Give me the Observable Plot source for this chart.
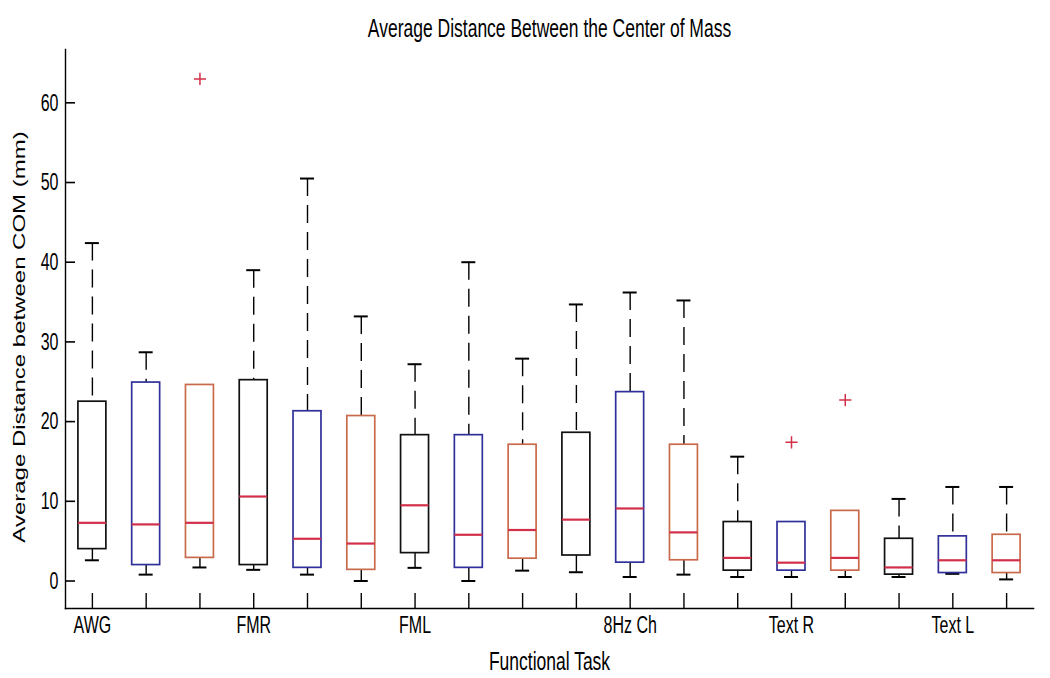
<!DOCTYPE html>
<html><head><meta charset="utf-8">
<script src="https://cdn.jsdelivr.net/npm/d3@7"></script>
<script src="https://cdn.jsdelivr.net/npm/@observablehq/plot@0.6"></script>
<style>body{margin:0;background:#fff}</style>
</head><body><div id="chart"></div>
<script>
// ---- data ----
const taskLabels = ["AWG", "FMR", "FML", "8Hz Ch", "Text R", "Text L"];
const taskLabelPositions = [1, 4, 7, 11, 14, 17];
const boxPositions = [1,2,3,4,5,6,7,8,9,10,11,12,13,14,15,16,17,18];
const boxGroups = ["k","b","r","k","b","r","k","b","r","k","b","r","k","b","r","k","b","r"];
const lowerWhisker = [2.6, 0.8, 1.7, 1.4, 0.8, 0.0, 1.65, 0.0, 1.3, 1.1, 0.5, 0.8, 0.5, 0.5, 0.5, 0.5, 0.9, 0.2];
const quartile1    = [4.0, 2.0, 2.9, 2.0, 1.65, 1.4, 3.5, 1.65, 2.8, 3.2, 2.3, 2.6, 1.3, 1.3, 1.3, 0.8, 1.0, 1.0];
const medians      = [7.3, 7.1, 7.3, 10.6, 5.3, 4.7, 9.5, 5.8, 6.4, 7.7, 9.1, 6.1, 2.9, 2.3, 2.9, 1.7, 2.6, 2.6];
const quartile3    = [22.5, 24.9, 24.6, 25.2, 21.3, 20.7, 18.3, 18.3, 17.1, 18.6, 23.7, 17.1, 7.4, 7.4, 8.8, 5.3, 5.6, 5.8];
const upperWhisker = [42.4, 28.7, 24.6, 39.0, 50.5, 33.2, 27.2, 40.0, 27.9, 34.7, 36.2, 35.2, 15.6, 7.4, 8.8, 10.3, 11.8, 11.8];
const outlierPositions = [3, 14, 15];
const outlierValues = [63.0, 17.4, 22.7];
const yTicks = [0, 10, 20, 30, 40, 50, 60];

// ---- layout / style ----
const W = 1050, H = 678;
const mT = 49, mB = 70, mL = 65, mR = 17;
const frameW = W - mL - mR, frameH = H - mT - mB;
const boxHalf = 0.26, capHalf = 0.13;
const groupColors = {k: "#111111", b: "#30309a", r: "#c86a4c"};
const medianColor = "#d2304a";

const boxes = boxPositions.map((p, i) => ({
  pos: p, group: boxGroups[i], lo: lowerWhisker[i], q1: quartile1[i],
  med: medians[i], q3: quartile3[i], hi: upperWhisker[i]
}));
const upperBoxes = boxes.filter(d => d.hi > d.q3);
const lowerBoxes = boxes.filter(d => d.lo < d.q1);
const outliers = outlierPositions.map((p, i) => ({pos: p, v: outlierValues[i]}));

const chart = Plot.plot({
  width: W, height: H,
  marginTop: mT, marginBottom: mB, marginLeft: mL, marginRight: mR,
  style: {fontFamily: "'Liberation Sans', Arial, sans-serif", fontSize: "16px", background: "#fff", color: "#000"},
  x: {domain: [0.5, 18.5], label: null},
  y: {domain: [-3.45, 66.69], label: null},
  color: {domain: ["k","b","r"], range: ["k","b","r"].map(k => groupColors[k])},
  marks: [
    Plot.frame({anchor: "left", stroke: "#000", strokeWidth: 1.4}),
    Plot.frame({anchor: "bottom", stroke: "#000", strokeWidth: 1.6}),
    Plot.tickX(boxPositions, {x: d => d, insetTop: frameH - 15, stroke: "#000", strokeWidth: 1.4}),
    Plot.tickY(yTicks, {y: d => d, insetRight: frameW - 10, stroke: "#000", strokeWidth: 1.6}),
    Plot.axisX(taskLabelPositions, {tickSize: 0, tickPadding: 7, fontSize: 16,
      tickFormat: d => taskLabels[taskLabelPositions.indexOf(d)]}),
    Plot.axisY(yTicks, {tickSize: 0, tickPadding: 7, fontSize: 16}),
    // whiskers
    Plot.ruleX(upperBoxes, {x: "pos", y1: "hi", y2: "q3", stroke: "#000", strokeWidth: 1.4, strokeDasharray: "18,9"}),
    Plot.ruleX(lowerBoxes, {x: "pos", y1: "q1", y2: "lo", stroke: "#000", strokeWidth: 1.4, strokeDasharray: "18,9"}),
    Plot.ruleY(upperBoxes, {y: "hi", x1: d => d.pos - capHalf, x2: d => d.pos + capHalf, stroke: "#000", strokeWidth: 2}),
    Plot.ruleY(lowerBoxes, {y: "lo", x1: d => d.pos - capHalf, x2: d => d.pos + capHalf, stroke: "#000", strokeWidth: 2}),
    // boxes
    Plot.rect(boxes, {x1: d => d.pos - boxHalf, x2: d => d.pos + boxHalf, y1: "q1", y2: "q3",
      fill: "none", stroke: "group", strokeWidth: 1.7}),
    Plot.ruleY(boxes, {y: "med", x1: d => d.pos - boxHalf, x2: d => d.pos + boxHalf, stroke: medianColor, strokeWidth: 2.2}),
    // outliers
    Plot.dot(outliers, {x: "pos", y: "v", symbol: "plus", r: 4, stroke: medianColor, strokeWidth: 1.5}),
    // titles
    Plot.text(["Average Distance Between the Center of Mass"], {text: d => d, frameAnchor: "top", dy: -21, lineAnchor: "middle", textAnchor: "middle", fontSize: 17.5}),
    Plot.text(["Functional Task"], {text: d => d, frameAnchor: "bottom", dy: 53, lineAnchor: "middle", textAnchor: "middle", fontSize: 17.5}),
    Plot.text(["Average Distance between COM (mm)"], {text: d => d, frameAnchor: "left", dx: -46, dy: 8, rotate: -90, lineAnchor: "middle", textAnchor: "middle", fontSize: 16})
  ]
});

// emulate the vertically stretched rendering of the original figure's text
chart.querySelectorAll("text").forEach(t => {
  let tr = t.getAttribute("transform");
  if (!tr) {
    const x = t.getAttribute("x") || 0, y = t.getAttribute("y") || 0;
    t.removeAttribute("x"); t.removeAttribute("y");
    tr = `translate(${x},${y})`;
  }
  t.setAttribute("transform", tr + (tr.includes("rotate") ? " scale(1.5,1)" : " scale(1,1.5)"));
});

document.getElementById("chart").appendChild(chart);
</script>
</body></html>
